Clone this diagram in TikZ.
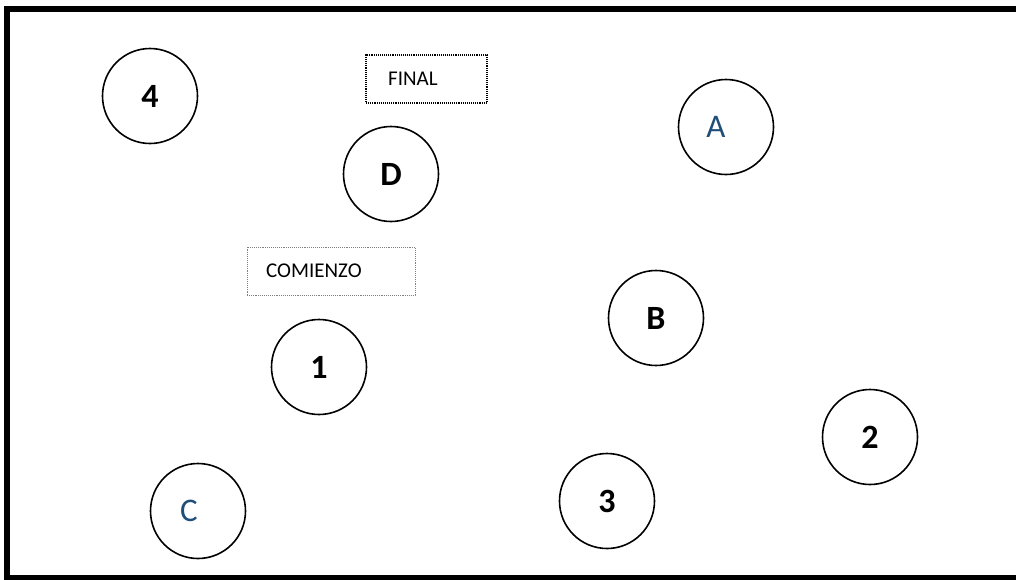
\documentclass[tikz,border=0pt]{standalone}
\usepackage{fontspec}
\setmainfont{Carlito}
\definecolor{darkblue}{HTML}{1F4E79}
\begin{document}
\begin{tikzpicture}[x=1pt,y=-1pt,
  station/.style={circle,draw=black,line width=1.6pt,minimum size=95pt,inner sep=0pt,
    font=\fontsize{34}{36}\selectfont\bfseries},
  letter/.style={font=\fontsize{33}{35}\selectfont,text=darkblue,inner sep=0pt},
  tag/.style={draw=black,line width=1.1pt,densely dotted,minimum width=121pt,minimum height=48pt,inner sep=0pt},
  tagtext/.style={font=\fontsize{21}{23}\selectfont,anchor=west,inner sep=0pt}]
\useasboundingbox (0,0) rectangle (1016,579);
% outer frame (continues past the right and bottom edges)
\draw[line width=6pt] (1030,9) -- (7,9) -- (7,578) -- (1030,578);
% text boxes
\node[tag] (finbox) at (426.5,79) {};
\node[tagtext] (fintext) at (388,79) {FINAL};
\node[tag,draw=gray,line width=0.8pt,minimum width=168pt] (combox) at (331,271) {};
\node[tagtext] (comtext) at (266,271) {COMIENZO};
% stations
\node[station] (n4) at (150,96) {4};
\node[station] (nD) at (391,174) {D};
\node[station] (nA) at (726,127) {};
\node[letter] (tA) at (716,127) {A};
\node[station] (nB) at (656,318) {B};
\node[station] (n1) at (319,367) {1};
\node[station] (n2) at (870,437) {2};
\node[station] (n3) at (607,501) {3};
\node[station] (nC) at (198,511) {};
\node[letter] (tC) at (189,511) {C};
\end{tikzpicture}
\end{document}
